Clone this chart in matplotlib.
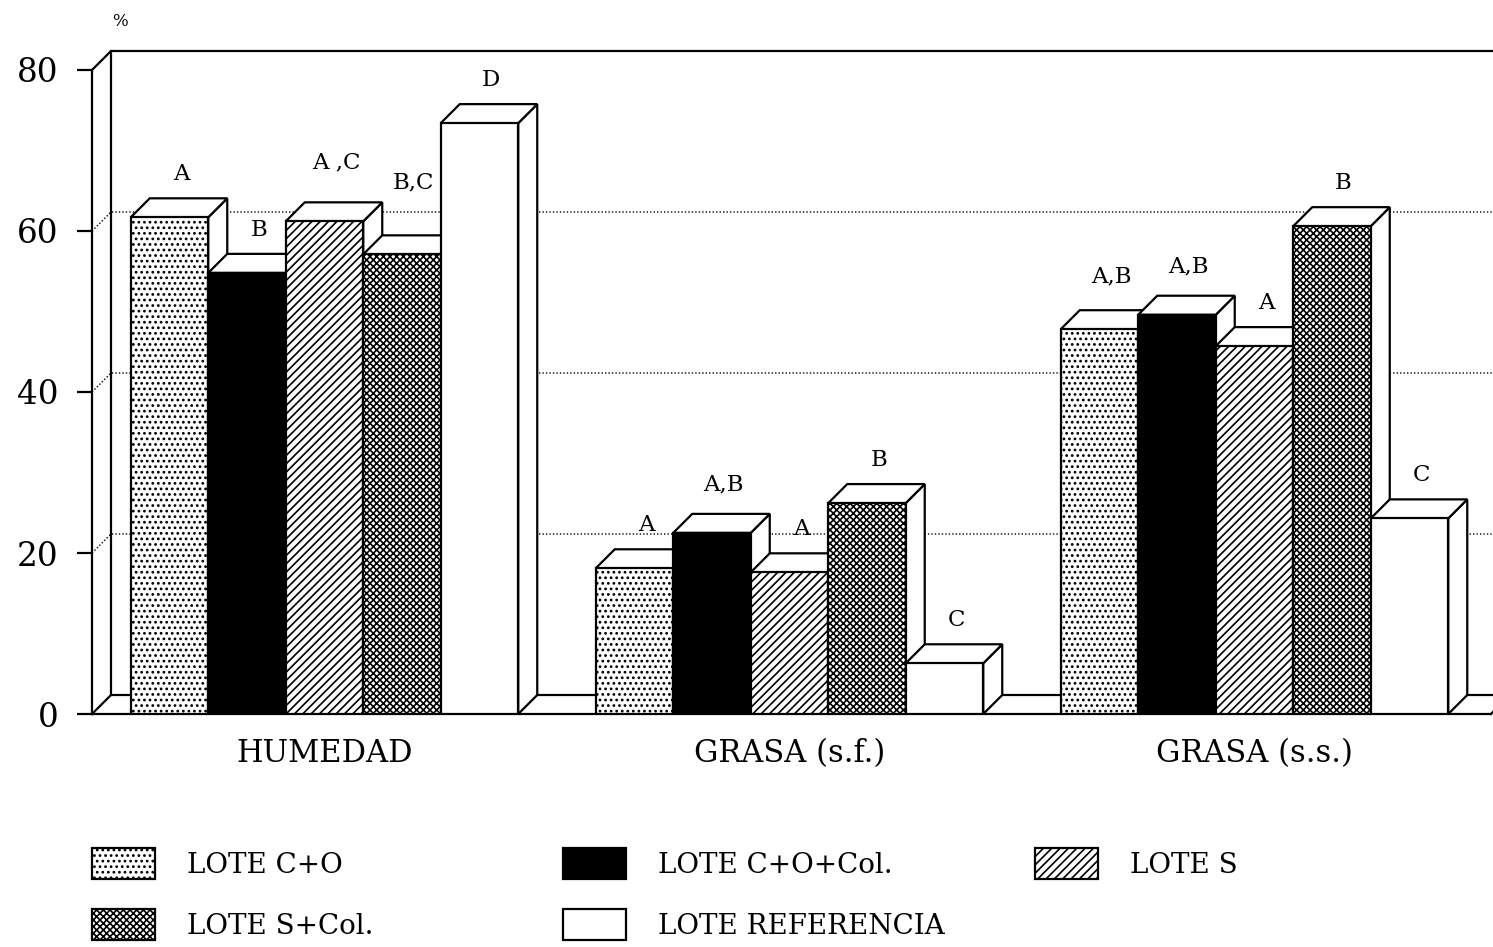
import matplotlib
matplotlib.use("Agg")
import matplotlib.pyplot as plt
from matplotlib.patches import Polygon, Patch

plt.rcParams["font.family"] = "DejaVu Serif"
plt.rcParams["hatch.linewidth"] = 1.2

categorias = ["HUMEDAD", "GRASA (s.f.)", "GRASA (s.s.)"]
lotes = ["LOTE C+O", "LOTE C+O+Col.", "LOTE S", "LOTE S+Col.", "LOTE REFERENCIA"]

# % medio de cada lote, en el orden de `categorias`
lote_co = [61.7, 18.1, 47.8]
lote_co_col = [54.8, 22.5, 49.6]
lote_s = [61.2, 17.6, 45.7]
lote_s_col = [57.1, 26.2, 60.6]
lote_ref = [73.4, 6.3, 24.3]

# letras de significacion sobre cada barra
letras_co = ["A", "A", "A,B"]
letras_co_col = ["B", "A,B", "A,B"]
letras_s = ["A ,C", "A", "A"]
letras_s_col = ["B,C", "B", "B"]
letras_ref = ["D", "C", "C"]

series = [lote_co, lote_co_col, lote_s, lote_s_col, lote_ref]
letras = [letras_co, letras_co_col, letras_s, letras_s_col, letras_ref]

# relleno de cada lote (blanco y negro, tramas)
estilos = [
    dict(facecolor="white", hatch="..."),
    dict(facecolor="black", hatch=None),
    dict(facecolor="white", hatch="////"),
    dict(facecolor="white", hatch="xxxxx"),
    dict(facecolor="white", hatch=None),
]

# ---- geometria del grafico (pixeles de la figura) ----
FIG_W, FIG_H, DPI = 1493, 947, 100
X_MAX = 18.05          # ancho del eje en "huecos" de barra
BAR_PX = 77.5          # pixeles por hueco
Y_PX = 644 / 80        # pixeles por unidad de %
DEPTH_PX = 19          # profundidad del efecto 3D
DX = DEPTH_PX / BAR_PX
DY = DEPTH_PX / Y_PX
LW = 1.6

fig = plt.figure(figsize=(FIG_W / DPI, FIG_H / DPI), dpi=DPI)
ax = fig.add_axes([92 / FIG_W, 233 / FIG_H, X_MAX * BAR_PX / FIG_W, 644 / FIG_H])
ax.set_xlim(0, X_MAX)
ax.set_ylim(0, 80)

# paredes: fondo, lateral izquierdo y suelo
kw_solid = dict(color="black", lw=LW, clip_on=False, zorder=2)
kw_grid = dict(color="black", lw=1.0, ls=(0, (1, 1.5)), clip_on=False, zorder=1)
for v in (20, 40, 60):
    ax.plot([0, DX, X_MAX + DX], [v, v + DY, v + DY], **kw_grid)
ax.plot([0, DX, X_MAX + DX], [80, 80 + DY, 80 + DY], **kw_solid)
ax.plot([DX, DX], [DY, 80 + DY], **kw_solid)
ax.plot([0, DX, X_MAX + DX], [0, DY, DY], **kw_solid)
ax.plot([X_MAX, X_MAX + DX], [0, DY], **kw_solid)

# etiquetas que se suben algo mas para no tapar la barra vecina (px)
subida_extra = {(0, 2): 16, (0, 3): 29, (2, 0): 10, (2, 1): 5, (1, 1): 5}

for s, (vals, est) in enumerate(zip(series, estilos)):
    xs = [g * 6 + 0.5 + s for g in range(len(categorias))]
    bars = ax.bar(xs, vals, width=1, align="edge", edgecolor="black",
                  linewidth=LW, **est)
    for g, (rect, v) in enumerate(zip(bars, vals)):
        z = 10 + 3 * (g * 6 + s)
        x0 = rect.get_x()
        x1 = x0 + rect.get_width()
        lado = Polygon([(x1, 0), (x1, v), (x1 + DX, v + DY), (x1 + DX, DY)],
                       closed=True, facecolor="white", edgecolor="black",
                       lw=LW, zorder=z, clip_on=False)
        techo = Polygon([(x0, v), (x0 + DX, v + DY), (x1 + DX, v + DY), (x1, v)],
                        closed=True, facecolor="white", edgecolor="black",
                        lw=LW, zorder=z + 1, clip_on=False)
        ax.add_patch(lado)
        ax.add_patch(techo)
        rect.set_zorder(z + 2)
        subida = (13 + subida_extra.get((g, s), 0)) / Y_PX
        ax.text(x0 + 0.5 + 0.15, v + DY + subida, letras[s][g], ha="center",
                va="bottom", fontsize=16.5, zorder=200)

# ejes
for lado in ("top", "right"):
    ax.spines[lado].set_visible(False)
for lado in ("left", "bottom"):
    ax.spines[lado].set_linewidth(LW)
ax.set_yticks([0, 20, 40, 60, 80])
ax.tick_params(axis="y", length=11, width=LW, pad=13, labelsize=23.5)
ax.set_xticks([g * 6 + 3 for g in range(len(categorias))])
ax.set_xticklabels(categorias)
ax.tick_params(axis="x", length=0, pad=17, labelsize=22)

fig.text(120 / FIG_W, 1 - 22 / FIG_H, "%", fontsize=12, ha="center", va="center")

# leyenda en tres columnas
handles = [Patch(edgecolor="black", linewidth=LW, **est) for est in estilos]
columnas = [[0, 3], [1, 4], [2]]
x_cols = [92, 563, 1035]
fs = 20
fs_px = fs * DPI / 72
for idx, xc in zip(columnas, x_cols):
    fig.legend([handles[i] for i in idx], [lotes[i] for i in idx],
               loc="upper left", bbox_to_anchor=(xc / FIG_W, 1 - 848 / FIG_H),
               frameon=False, fontsize=fs, borderpad=0, borderaxespad=0,
               handlelength=63 / fs_px, handleheight=1.34,
               handletextpad=32 / fs_px, labelspacing=1.07)

fig.savefig("out.png", dpi=DPI, facecolor="white")
